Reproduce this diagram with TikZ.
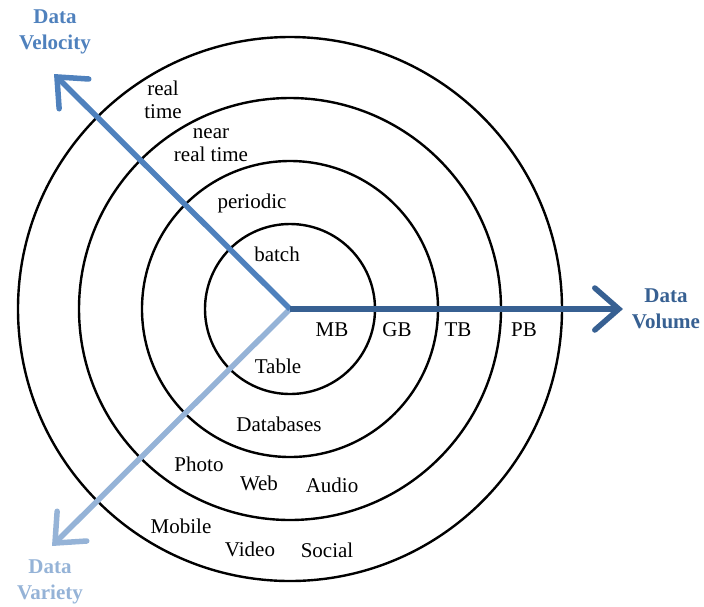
\documentclass[tikz,border=0pt]{standalone}
\usepackage{fontspec}
\setmainfont{Liberation Serif}
\usetikzlibrary{arrows.meta}
\definecolor{velc}{HTML}{4F81BD}
\definecolor{volc}{HTML}{376092}
\definecolor{varc}{HTML}{95B3D7}
\tikzset{
  ring/.style={draw=black,line width=2.4pt},
  axisarrow/.style={line width=5.5pt,-{Straight Barb[length=24pt,width=42pt,line cap=round]}},
  lbl/.style={font=\fontsize{21}{23}\selectfont,align=center,inner sep=0pt},
  axlbl/.style={font=\fontsize{21}{26}\selectfont\bfseries,align=center,inner sep=0pt}
}
\begin{document}
\begin{tikzpicture}[x=1pt,y=-1pt]
\useasboundingbox (0,0) rectangle (704,606);
\coordinate (c) at (290,309);
\draw[ring] (c) circle (85pt);
\draw[ring] (c) circle (148pt);
\draw[ring] (c) circle (211pt);
\draw[ring] (c) circle (272pt);
\coordinate (velend) at (54,74);
\coordinate (volend) at (623,309);
\coordinate (varend) at (52,546);
\draw[axisarrow,varc] (c) -- (varend);
\draw[axisarrow,velc] (c) -- (velend);
\draw[axisarrow,volc] (c) -- (volend);
\node[axlbl,text=velc] (vel) at (55,32) {Data\\Velocity};
\node[axlbl,text=volc] (vol) at (666,309) {Data\\Volume};
\node[axlbl,text=varc] (var) at (50,582) {Data\\Variety};
\node[lbl] (rt) at (163,100) {real\\time};
\node[lbl] (nrt) at (211,145) {near\\real time};
\node[lbl] (per) at (252,203) {periodic};
\node[lbl] (bat) at (277,254) {batch};
\node[lbl] (mb) at (332,330) {MB};
\node[lbl] (gb) at (397,330) {GB};
\node[lbl] (tb) at (458,330) {TB};
\node[lbl] (pb) at (524,330) {PB};
\node[lbl] (tab) at (278,366) {Table};
\node[lbl] (db) at (279,424) {Databases};
\node[lbl] (pho) at (199,464) {Photo};
\node[lbl] (web) at (259,483) {Web};
\node[lbl] (aud) at (332,485) {Audio};
\node[lbl] (mob) at (181,526) {Mobile};
\node[lbl] (vid) at (250,549) {Video};
\node[lbl] (soc) at (327,550) {Social};
\end{tikzpicture}
\end{document}
